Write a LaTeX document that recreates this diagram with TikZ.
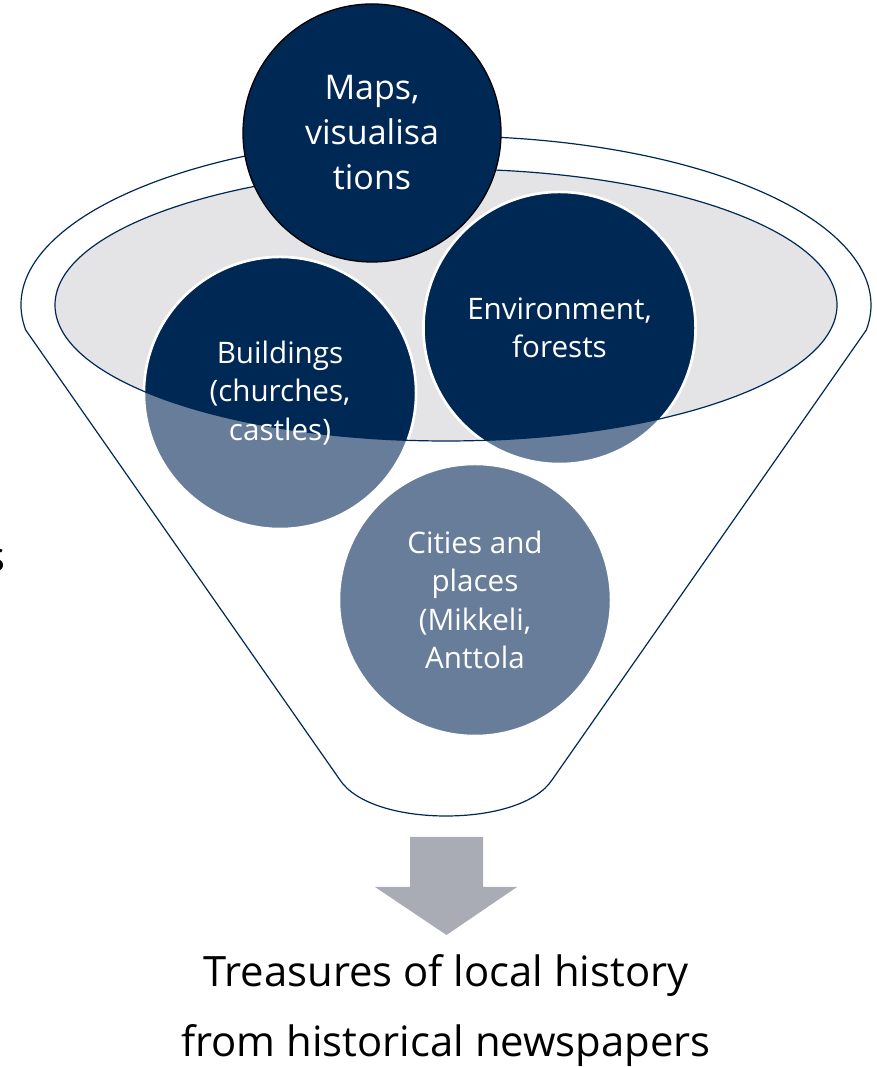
\documentclass[tikz,border=0pt]{standalone}
\usepackage{fontspec}
\setmainfont{Open Sans}
\definecolor{navy}{RGB}{0,40,85}
\definecolor{lightnavy}{RGB}{103,125,153}
\definecolor{ellgrey}{RGB}{228,228,231}
\definecolor{arrowgrey}{RGB}{169,172,180}
\begin{document}
\begin{tikzpicture}[x=1pt,y=1pt,
  bubble/.style={circle, minimum size=272pt, inner sep=0pt, fill=lightnavy, draw=white, line width=2.5pt},
  bubbletext/.style={text=white, align=center, inner sep=0pt, font=\fontsize{29.6}{38.5}\selectfont},
  funnelline/.style={draw=navy, line width=1.2pt},
  bigtext/.style={anchor=base, inner sep=0pt, font=\fontsize{41.8}{49}\selectfont}]
\useasboundingbox (0,0) rectangle (876,1067);
% outer funnel
\path[funnelline, fill=white] (25.7,737) arc[start angle=188.5, end angle=-8.5, x radius=425, y radius=169]
  -- (552,287) .. controls (536,263) and (492,251) .. (446,251)
  .. controls (400,251) and (356,263) .. (340,287) -- cycle;
% inner ellipse
\fill[ellgrey] (446,762) ellipse[x radius=391, y radius=136];
% bubbles
\node[bubble] (bld) at (280,674) {};
\node[bubble] (env) at (559.5,739) {};
\node[bubble] (cit) at (475,467) {};
\begin{scope}
  \clip (446,762) ellipse[x radius=391, y radius=136];
  \node[bubble, fill=navy] at (bld.center) {};
  \node[bubble, fill=navy] at (env.center) {};
\end{scope}
\draw[funnelline] (446,762) ellipse[x radius=391, y radius=136];
\node[bubbletext] (bldtxt) at (bld.center) {Buildings\\(churches,\\castles)};
\node[bubbletext] (envtxt) at (env.center) {Environment,\\forests};
\node[bubbletext] (cittxt) at (cit.center) {Cities and\\places\\(Mikkeli,\\Anttola};
% top bubble
\node[circle, minimum size=258pt, inner sep=0pt, fill=navy, draw=black, line width=1.3pt,
  text=white, align=center, font=\fontsize{34}{45}\selectfont] (maps) at (372,934) {Maps,\\visualisa\\tions};
% arrow
\fill[arrowgrey] (410,230) -- (483,230) -- (483,180) -- (517,180) -- (446.5,132) -- (375,180) -- (410,180) -- cycle;
% bottom text
\node[bigtext] (t1) at (446,80) {Treasures of local history};
\node[bigtext] (t2) at (446,10) {from historical newspapers};
% cut-off letter at left edge, as in the reference
\begin{scope}
  \clip (0,0) rectangle (876,1067);
  \node[anchor=base east, inner sep=0pt, font=\fontsize{41.8}{49}\selectfont] (cut) at (6,495) {s};
\end{scope}
\end{tikzpicture}
\end{document}
